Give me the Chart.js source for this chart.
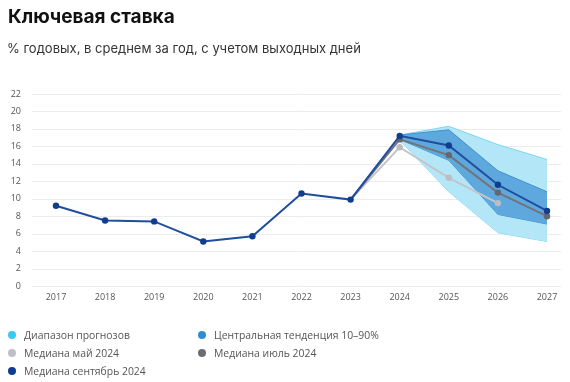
<!DOCTYPE html>
<html><head><meta charset="utf-8">
<script src="https://cdn.jsdelivr.net/npm/chart.js@4"></script>
<style>
html,body{margin:0;padding:0;background:#fff;width:570px;height:382px;overflow:hidden;font-family:"Inter","Noto Sans",sans-serif;}
#wrap{position:absolute;left:0;top:0;width:570px;height:382px;}
#title{position:absolute;left:8px;top:5px;font-size:19px;font-weight:700;color:#111;white-space:nowrap;}
#sub{position:absolute;left:7px;top:40px;font-size:13px;color:#333;white-space:nowrap;}
.lg{position:absolute;font-size:10.4px;color:#555;white-space:nowrap;font-family:"Open Sans","Noto Sans",sans-serif;line-height:14px;}
.dot{display:inline-block;width:8px;height:8px;border-radius:50%;margin-right:8px;vertical-align:-0px;}
</style></head>
<body>
<div id="wrap"><canvas id="c" width="570" height="382"></canvas></div>
<div id="title">Ключевая ставка</div>
<div id="sub">% годовых, в среднем за год, с учетом выходных дней</div>
<div class="lg" style="left:8px;top:328px"><span class="dot" style="background:#3cc9ef"></span>Диапазон прогнозов</div>
<div class="lg" style="left:198px;top:328px"><span class="dot" style="background:#2d8ed6"></span>Центральная тенденция 10–90%</div>
<div class="lg" style="left:8px;top:346px"><span class="dot" style="background:#bfc0c6"></span>Медиана май 2024</div>
<div class="lg" style="left:198px;top:346px"><span class="dot" style="background:#6b6c72"></span>Медиана июль 2024</div>
<div class="lg" style="left:8px;top:364px"><span class="dot" style="background:#0e3c8f"></span>Медиана сентябрь 2024</div>
<script>
const years = ['2017','2018','2019','2020','2021','2022','2023','2024','2025','2026','2027'];
const septMedian = [9.2, 7.5, 7.4, 5.1, 5.7, 10.6, 9.9, 17.2, 16.1, 11.6, 8.6];
const julyMedian = [null, null, null, null, null, null, 9.9, 16.8, 15.0, 10.7, 8.0];
const mayMedian  = [null, null, null, null, null, null, 9.9, 15.9, 12.4, 9.5, null];
const rangeLow    = [null, null, null, null, null, null, null, 16.7, 10.8, 6.1, 5.1];
const rangeHigh   = [null, null, null, null, null, null, null, 17.3, 18.3, 16.2, 14.5];
const centralLow  = [null, null, null, null, null, null, null, 16.8, 14.4, 8.2, 7.1];
const centralHigh = [null, null, null, null, null, null, null, 17.3, 17.9, 13.2, 10.8];
const yTicks = [0,2,4,6,8,10,12,14,16,18,20,22];

const gridPlugin = {
  id:'grid',
  beforeDatasetsDraw(chart){
    const ctx = chart.ctx, y = chart.scales.y;
    ctx.save();
    ctx.strokeStyle = '#ececef';
    ctx.lineWidth = 1;
    yTicks.forEach(v=>{
      const p = Math.round(y.getPixelForValue(v)) + 0.5;
      ctx.beginPath(); ctx.moveTo(32, p); ctx.lineTo(561, p); ctx.stroke();
    });
    ctx.restore();
  }
};

const band = (data, border, bg, fill, order) => ({
  data, borderColor: border, backgroundColor: bg, borderWidth: 1,
  pointRadius: 0, fill: fill, tension: 0, spanGaps: false, order
});
const med = (data, col, ptCol, order, hide2023) => ({
  data, borderColor: col, backgroundColor: ptCol, pointBackgroundColor: ptCol,
  pointBorderColor: ptCol, pointBorderWidth: 0, borderWidth: 2, fill: false, tension: 0, order,
  pointRadius: data.map((v, i) => (hide2023 && years[i] === '2023') ? 0 : 3.2)
});

new Chart(document.getElementById('c'), {
  type: 'line',
  data: {
    labels: years,
    datasets: [
      band(rangeLow, '#7dd6f0', '#b3e7f8', false, 7),
      band(rangeHigh, '#7dd6f0', '#b3e7f8', '-1', 6),
      band(centralLow, '#3f90d2', '#5ea8de', false, 5),
      band(centralHigh, '#3f90d2', '#5ea8de', '-1', 4),
      med(mayMedian, '#c4c5ca', '#bcbdc2', 3, true),
      med(julyMedian, '#737479', '#66676d', 2, true),
      med(septMedian, '#1f4e9e', '#103d8f', 1, false)
    ]
  },
  options: {
    responsive: false, animation: false,
    layout: { padding: { top: 94, right: 23, bottom: 76, left: 0 } },
    plugins: { legend: { display: false }, tooltip: { enabled: false } },
    scales: {
      x: {
        offset: false,
        grid: { display: false, drawTicks: false },
        border: { display: false },
        ticks: { color: '#555', font: { size: 9, family: 'Open Sans' }, padding: 6, maxRotation: 0 },
        afterFit(s){ s.height = 20; }
      },
      y: {
        min: 0, max: 22,
        grid: { display: false, drawTicks: false },
        border: { display: false },
        ticks: { stepSize: 2, color: '#555', font: { size: 9, family: 'Open Sans' }, padding: 35 },
        afterFit(s){ s.width = 56; }
      }
    }
  },
  plugins: [gridPlugin]
});
</script>
</body></html>
